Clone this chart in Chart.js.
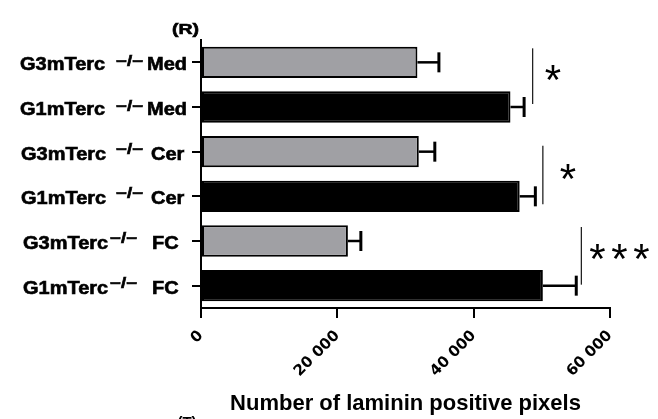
<!DOCTYPE html>
<html><head><meta charset="utf-8">
<script src="https://cdn.jsdelivr.net/npm/chart.js@4.4.0/dist/chart.umd.min.js"></script>
<style>html,body{margin:0;padding:0;background:#fff;} #wrap{width:658px;height:419px;position:relative;}</style>
</head><body><div id="wrap"><canvas id="c"></canvas></div>
<script>
// ---- data ----
const categories = ["G3mTerc −/− Med","G1mTerc −/− Med","G3mTerc −/− Cer","G1mTerc −/− Cer","G3mTerc −/− FC","G1mTerc −/− FC"];
const labelMain = ["G3mTerc","G1mTerc","G3mTerc","G1mTerc","G3mTerc","G1mTerc"];
const labelSup = ["−/−","−/−","−/−","−/−","−/−","−/−"];
const labelSuffix = ["Med","Med","Cer","Cer","FC","FC"];
const meanValues = [31750, 45400, 31950, 46750, 21550, 50150];
const errorUpper = [34900, 47400, 34300, 49050, 23450, 55050];
const xTickValues = [0, 20000, 40000, 60000];
const xTickLabels = ["0", "20 000", "40 000", "60 000"];
const sigPairs = [[0, 1], [2, 3], [4, 5]];
const sigLabels = ["*", "*", "***"];
const sigLineValues = [48650, 50150, 55800];
const axisTitle = "Number of laminin positive pixels";
const panelLabel = "(R)";
const nextPanelLabel = "(T)";

// ---- style ----
const GRAY = "#a0a0a4";
const barColors = categories.map((_, i) => i % 2 === 0 ? GRAY : "#000000");
const labelLayout = {
  mainX: [20, 20, 21, 21, 23, 23],
  supX: [116, 116, 116, 116, 110, 110],
  suffixX: [147, 147, 151, 151, 152, 152],
  supDy: [-3, -3, -5, -5, -5, -5],
  stretch: 1.11,
  supStretch: 1.25
};
const sigStyle = { starDx: [12, 17, 8], topDy: [-14, -6, -14], botDy: [-3, 8, -1] };

function boldText(ctx, txt, x, y) {
  ctx.fillText(txt, x, y);
  ctx.lineWidth = 0.6;
  ctx.strokeStyle = '#000';
  ctx.strokeText(txt, x, y);
}

const overlay = {
  id: 'overlay',
  afterDatasetsDraw(chart) {
    const ctx = chart.ctx, xs = chart.scales.x, ys = chart.scales.y;
    ctx.save();
    ctx.strokeStyle = '#000';
    for (let i = 0; i < meanValues.length; i++) {
      const y = ys.getPixelForValue(i);
      const x0 = xs.getPixelForValue(meanValues[i]);
      const x1 = xs.getPixelForValue(errorUpper[i]);
      ctx.lineWidth = 2.5;
      ctx.beginPath(); ctx.moveTo(x0, y); ctx.lineTo(x1, y); ctx.stroke();
      ctx.lineWidth = 3;
      ctx.beginPath(); ctx.moveTo(x1, y - 10); ctx.lineTo(x1, y + 10); ctx.stroke();
    }
    ctx.restore();
  },
  afterDraw(chart) {
    const ctx = chart.ctx, xs = chart.scales.x, ys = chart.scales.y;
    ctx.save();
    ctx.fillStyle = '#000';
    ctx.textBaseline = 'middle';
    ctx.textAlign = 'left';
    const st = labelLayout.stretch;
    for (let i = 0; i < labelMain.length; i++) {
      const y = ys.getPixelForValue(i) + 3;
      ctx.font = 'bold 18px "Liberation Sans", Arial, sans-serif';
      ctx.save(); ctx.translate(labelLayout.mainX[i], y); ctx.scale(st, 1); boldText(ctx, labelMain[i], 0, 0); ctx.restore();
      ctx.save(); ctx.translate(labelLayout.suffixX[i], y); ctx.scale(st, 1); boldText(ctx, labelSuffix[i], 0, 0); ctx.restore();
      ctx.font = 'bold 15px "Liberation Sans", Arial, sans-serif';
      ctx.save(); ctx.translate(labelLayout.supX[i], y + labelLayout.supDy[i]); ctx.scale(labelLayout.supStretch, 1); boldText(ctx, labelSup[i], 0, 0); ctx.restore();
    }
    // significance
    for (let k = 0; k < sigPairs.length; k++) {
      const [a, b] = sigPairs[k];
      const lx = xs.getPixelForValue(sigLineValues[k]);
      const yT = ys.getPixelForValue(a) + sigStyle.topDy[k];
      const yB = ys.getPixelForValue(b) + sigStyle.botDy[k];
      ctx.strokeStyle = '#222'; ctx.lineWidth = 1.3;
      ctx.beginPath(); ctx.moveTo(lx, yT); ctx.lineTo(lx, yB); ctx.stroke();
      ctx.font = '42px "Liberation Sans", Arial, sans-serif';
      ctx.textBaseline = 'alphabetic';
      const m = ctx.measureText('*');
      const cy = (yT + yB) / 2 - 3.5;
      const base = cy + (m.actualBoundingBoxAscent - m.actualBoundingBoxDescent) / 2;
      sigLabels[k].split('').forEach((ch, j) => {
        ctx.fillText(ch, lx + sigStyle.starDx[k] + j * 22, base);
      });
    }
    ctx.textBaseline = 'middle';
    ctx.textAlign = 'center';
    ctx.font = 'bold 15px "Liberation Sans", Arial, sans-serif';
    ctx.save(); ctx.translate(185.5, 29.5); ctx.scale(1.3, 1); boldText(ctx, panelLabel, 0, 0); ctx.restore();
    ctx.textBaseline = 'top';
    ctx.fillText(nextPanelLabel, 187, 415.5);
    ctx.restore();
  }
};

new Chart(document.getElementById('c'), {
  type: 'bar',
  data: {
    labels: categories,
    datasets: [{
      data: meanValues,
      backgroundColor: barColors,
      borderColor: '#000',
      borderWidth: 2,
      borderSkipped: false,
      barPercentage: 0.7,
      categoryPercentage: 1
    }]
  },
  options: {
    indexAxis: 'y',
    responsive: true,
    maintainAspectRatio: false,
    animation: false,
    layout: { padding: { top: 40, right: 48, left: 0, bottom: 0 } },
    plugins: { legend: { display: false }, tooltip: { enabled: false } },
    scales: {
      y: {
        type: 'category',
        ticks: { display: false },
        grid: { offset: false, drawOnChartArea: false, color: '#000', lineWidth: 2, tickLength: 9 },
        border: { display: true, color: '#000', width: 2 },
        afterFit(s) { s.width = 201; }
      },
      x: {
        type: 'linear',
        min: 0, max: 60000,
        afterBuildTicks(s) { s.ticks = xTickValues.map(v => ({ value: v })); },
        ticks: {
          callback: (v, i) => xTickLabels[i],
          font: { family: '"DejaVu Sans"', weight: 'bold', size: 15 },
          color: '#000',
          minRotation: 45, maxRotation: 45,
          padding: 9
        },
        grid: { drawOnChartArea: false, color: '#000', lineWidth: 2, tickLength: 10 },
        border: { display: true, color: '#000', width: 2 },
        title: {
          display: true, text: axisTitle, color: '#000',
          font: { family: '"Liberation Sans"', weight: 'bold', size: 22 },
          padding: { top: 0, bottom: 2 }
        },
        afterFit(s) { s.height = 111; }
      }
    }
  },
  plugins: [overlay]
});
</script>
</body></html>
